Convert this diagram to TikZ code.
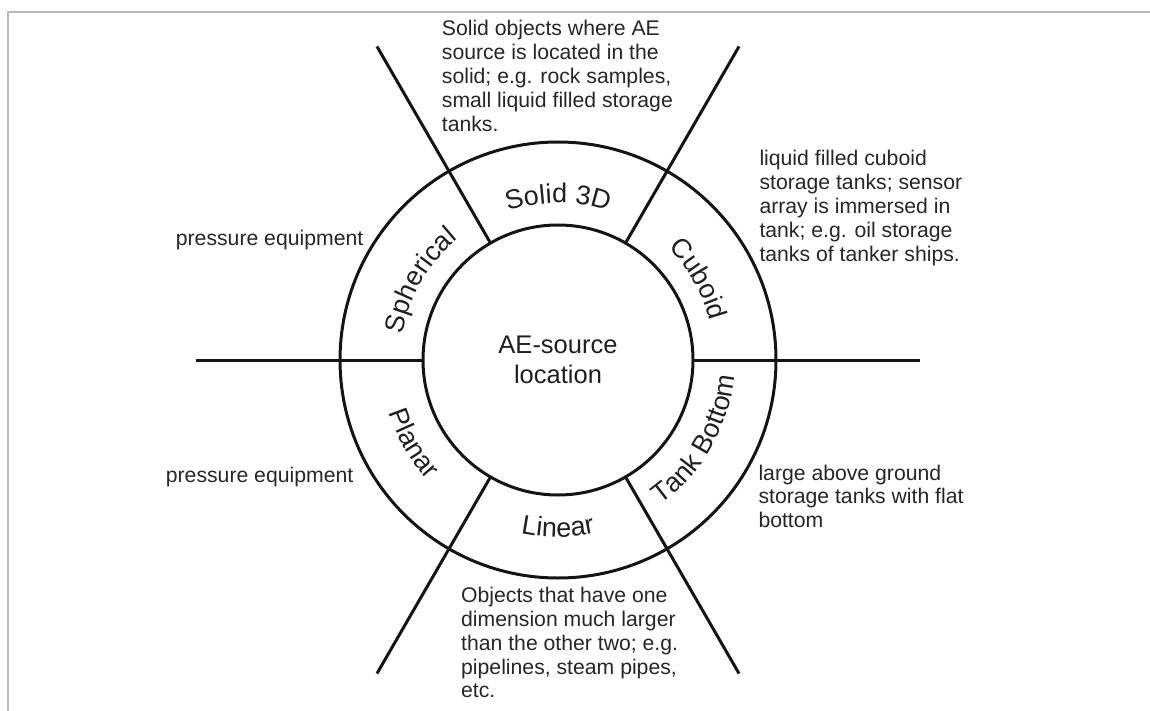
\documentclass[tikz,border=0pt]{standalone}
\usepackage{fontspec}
\setmainfont{Liberation Sans}
\usetikzlibrary{calc,decorations.text}
\begin{document}
\begin{tikzpicture}[x=1pt,y=1pt,
  ring/.style={line width=3pt, black!92},
  desc/.style={anchor=base west, inner sep=0pt, text=black!85, font=\fontsize{21.2}{23.8}\selectfont},
  centre/.style={align=center, inner sep=0pt, text=black!88, font=\fontsize{25.5}{30}\selectfont},
  arclab/.style={decorate, decoration={text along path, text align=center, text color=black!88,
     text={|\fontsize{27}{30}\selectfont|#1}}}]
\useasboundingbox (0,0) rectangle (1150,-711);
% frame
\draw[black!28, line width=1.3pt] (1150,-12) -- (8,-12) -- (8,-711);
% rings
\coordinate (c) at (558,-360);
\draw[ring] (c) circle[radius=135];
\draw[ring] (c) circle[radius=218];
\foreach \a in {0,60,120,180,240,300}
  \draw[ring] ($(c)+(\a:135)$) -- ($(c)+(\a:362)$);
% centre
\node[centre] (centre) at (c) {AE-source\\location};
% ring labels
\path[arclab={Solid 3D}]    ($(c)+(120:157)$) arc[start angle=120, end angle=60,  radius=157];
\path[arclab={Spherical}]   ($(c)+(180:157)$) arc[start angle=180, end angle=120, radius=157];
\path[arclab={Cuboid}]      ($(c)+(60:157)$)  arc[start angle=60,  end angle=0,   radius=157];
\path[arclab={Planar}]      ($(c)+(180:177)$) arc[start angle=180, end angle=240, radius=177];
\path[arclab={Linear}]      ($(c)+(240:177)$) arc[start angle=240, end angle=300, radius=177];
\path[arclab={Tank Bottom}] ($(c)+(300:177)$) arc[start angle=300, end angle=360, radius=177];
% descriptions
\node[desc] (dtop) at (441.7,-36) {\begin{tabular}[t]{@{}l@{}}Solid objects where AE\\source is located in the\\solid; e.g. rock samples,\\small liquid filled storage\\tanks.\end{tabular}};
\node[desc] (dcub) at (759.3,-166) {\begin{tabular}[t]{@{}l@{}}liquid filled cuboid\\storage tanks; sensor\\array is immersed in\\tank; e.g. oil storage\\tanks of tanker ships.\end{tabular}};
\node[desc] (dsph) at (175.7,-245) {pressure equipment};
\node[desc] (dpla) at (165.7,-482.7) {pressure equipment};
\node[desc] (dtank) at (758.3,-480) {\begin{tabular}[t]{@{}l@{}}large above ground\\storage tanks with flat\\bottom\end{tabular}};
\node[desc] (dlin) at (461,-602.7) {\begin{tabular}[t]{@{}l@{}}Objects that have one\\dimension much larger\\than the other two; e.g.\\pipelines, steam pipes,\\etc.\end{tabular}};
\end{tikzpicture}
\end{document}
